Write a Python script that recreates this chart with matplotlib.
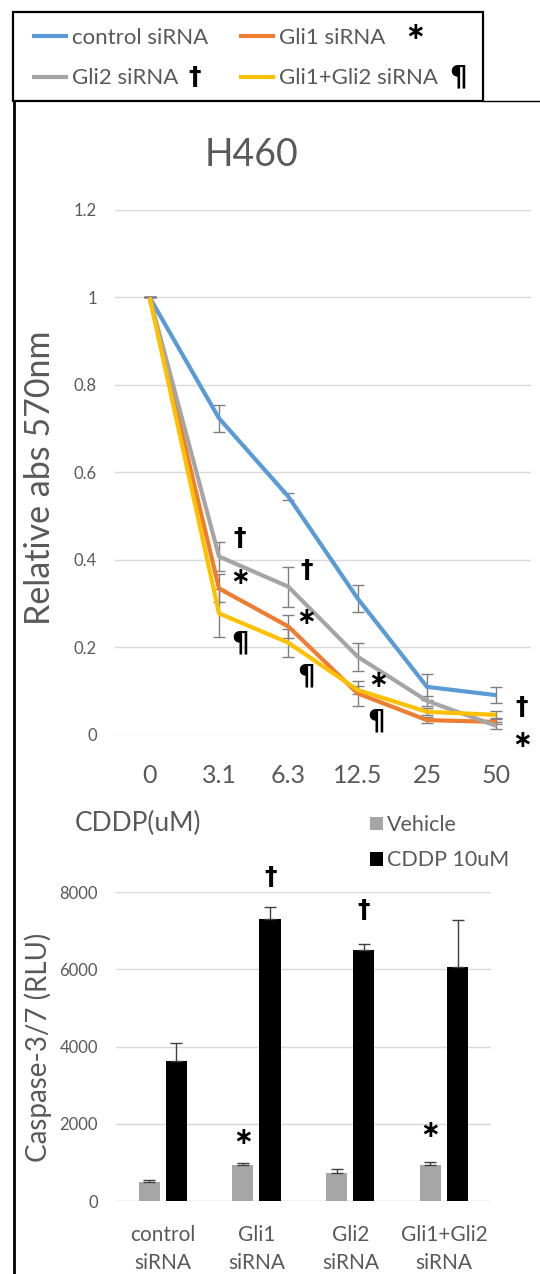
import numpy as np
import matplotlib
matplotlib.use("Agg")
from matplotlib import pyplot as plt
from matplotlib.lines import Line2D
from matplotlib.patches import Rectangle

plt.rcParams['font.family'] = ['Lato', 'DejaVu Sans']

# line chart data
doses = ['0', '3.1', '6.3', '12.5', '25', '50']
series_names = ['control siRNA', 'Gli1 siRNA', 'Gli2 siRNA', 'Gli1+Gli2 siRNA']
series_colors = ['#5B9BD5', '#ED7D31', '#A5A5A5', '#FFC000']
ctrl = [1.0, 0.724, 0.545, 0.312, 0.110, 0.091]
ctrl_err = [0.0, 0.031, 0.008, 0.031, 0.030, 0.018]
gli1 = [1.0, 0.335, 0.248, 0.095, 0.034, 0.030]
gli1_err = [0.0, 0.032, 0.027, 0.028, 0.006, 0.006]
gli2 = [1.0, 0.408, 0.339, 0.179, 0.078, 0.021]
gli2_err = [0.0, 0.034, 0.046, 0.032, 0.012, 0.008]
gli12 = [1.0, 0.278, 0.211, 0.103, 0.053, 0.046]
gli12_err = [0.0, 0.055, 0.032, 0.010, 0.008, 0.008]

# bar chart data
groups = ['control\nsiRNA', 'Gli1\nsiRNA', 'Gli2\nsiRNA', 'Gli1+Gli2\nsiRNA']
vehicle = [500, 935, 720, 935]
vehicle_err = [40, 40, 100, 70]
cddp = [3630, 7300, 6500, 6055]
cddp_err = [460, 325, 150, 1230]

txt = '#595959'
W, H = 540, 1274
fig = plt.figure(figsize=(5.4, 12.74), dpi=100)

def fx(px):
    return px / W

def fy(py):
    return 1 - py / H

# frame decorations
fig.patches.append(Rectangle((fx(13), fy(101)), fx(483) - fx(13), fy(12) - fy(101),
                             transform=fig.transFigure, fill=False, lw=1.6, ec='black'))
fig.add_artist(Line2D([fx(483), 1.0], [fy(101), fy(101)], transform=fig.transFigure, lw=1.0, color='black'))
fig.add_artist(Line2D([fx(13.5), fx(13.5)], [0, fy(101)], transform=fig.transFigure, lw=2.0, color='black'))

# ---- line chart
ax = fig.add_axes([fx(115), fy(735), fx(531) - fx(115), fy(210) - fy(735)])
x = np.arange(len(doses))
vals = [ctrl, gli1, gli2, gli12]
errs = [ctrl_err, gli1_err, gli2_err, gli12_err]
for v, e in zip(vals, errs):
    ax.errorbar(x, v, yerr=e, fmt='none', ecolor='#7f7f7f', elinewidth=1.0, capsize=4, capthick=1.0, zorder=2)
handles = []
for v, c, n in zip(vals, series_colors, series_names):
    ln, = ax.plot(x, v, color=c, lw=3.0, label=n, zorder=3, solid_capstyle='butt')
    handles.append(ln)
ax.set_xlim(-0.5, 5.5)
ax.set_ylim(0, 1.2)
ax.set_yticks([0, 0.2, 0.4, 0.6, 0.8, 1.0, 1.2])
ax.set_yticklabels(['0', '0.2', '0.4', '0.6', '0.8', '1', '1.2'])
ax.set_xticks(x)
ax.set_xticklabels(doses)
ax.tick_params(axis='y', length=0, pad=13, labelsize=12, labelcolor=txt)
ax.tick_params(axis='x', length=0, pad=21, labelsize=18, labelcolor=txt)
ax.grid(axis='y', color='#d9d9d9', lw=1.0)
ax.set_axisbelow(True)
for s in ax.spines.values():
    s.set_visible(False)

sym = dict(color='black', fontweight='bold', family='DejaVu Sans', ha='center', va='center', clip_on=False)
line_marks = [('\u2020', 1.30, 0.450, 18), ('\u2217', 1.30, 0.361, 17), ('\u00b6', 1.30, 0.210, 20),
              ('\u2020', 2.26, 0.377, 18), ('\u2217', 2.26, 0.270, 17), ('\u00b6', 2.26, 0.133, 20),
              ('\u2217', 3.29, 0.126, 17), ('\u00b6', 3.26, 0.030, 20),
              ('\u2020', 5.37, 0.064, 18), ('\u2217', 5.37, -0.011, 17)]
for s, xx, yy, fs in line_marks:
    ax.text(xx, yy, s, fontsize=fs, **sym)

fig.text(fx(252), fy(155), 'H460', fontsize=27, color=txt, ha='center', va='center')
fig.text(fx(40), fy(478), 'Relative abs 570nm', fontsize=24.5, color=txt, rotation=90, ha='center', va='center')
fig.text(fx(75), fy(823), 'CDDP(uM)', fontsize=19, color=txt, ha='left', va='center')

# legend filled column-wise, so order handles to read row by row
order = [0, 2, 1, 3]
leg = fig.legend(handles=[handles[i] for i in order], labels=[series_names[i] for i in order],
                 ncol=2, frameon=False, loc='upper left', borderpad=0, borderaxespad=0,
                 bbox_to_anchor=(fx(32), fy(28)), fontsize=16, handlelength=1.62, handletextpad=0.2,
                 columnspacing=1.35, labelspacing=0.92)
for t in leg.get_texts():
    t.set_color(txt)
fig.text(fx(415), fy(32), '\u2217', fontsize=17, **sym)
fig.text(fx(195), fy(77), '\u2020', fontsize=18, **sym)
fig.text(fx(458), fy(77), '\u00b6', fontsize=20, **sym)

# ---- bar chart
ax2 = fig.add_axes([fx(116), fy(1201), fx(491) - fx(116), fy(892.3) - fy(1201)])
gx = np.arange(len(groups))
bw = 0.225
b1 = ax2.bar(gx - 0.147, vehicle, bw, color='#A6A6A6', label='Vehicle', zorder=2,
             yerr=[np.zeros(4), vehicle_err], error_kw=dict(ecolor='#404040', elinewidth=1.0, capsize=4, capthick=1.0))
b2 = ax2.bar(gx + 0.143, cddp, bw, color='black', label='CDDP 10uM', zorder=2,
             yerr=[np.zeros(4), cddp_err], error_kw=dict(ecolor='#404040', elinewidth=1.0, capsize=4, capthick=1.0))
ax2.set_xlim(-0.5, 3.5)
ax2.set_ylim(0, 8000)
ax2.set_yticks([0, 2000, 4000, 6000, 8000])
ax2.set_xticks(gx)
ax2.set_xticklabels(groups, linespacing=1.52)
ax2.tick_params(axis='y', length=0, pad=13, labelsize=12, labelcolor=txt)
ax2.tick_params(axis='x', length=0, pad=17, labelsize=15, labelcolor=txt)
ax2.grid(axis='y', color='#d9d9d9', lw=1.0)
ax2.set_axisbelow(True)
for s in ax2.spines.values():
    s.set_visible(False)
ax2.axhline(0, color='#d9d9d9', lw=1.0, zorder=1)

bar_marks = [('\u2020', 1.145, 8394, 18), ('\u2020', 2.145, 7540, 18),
             ('\u2217', 0.855, 1658, 17), ('\u2217', 2.855, 1840, 17)]
for s, xx, yy, fs in bar_marks:
    ax2.text(xx, yy, s, fontsize=fs, **sym)

fig.text(fx(38), fy(1047), 'Caspase-3/7 (RLU)', fontsize=20, color=txt, rotation=90, ha='center', va='center')
leg2 = fig.legend(handles=[b1, b2], labels=['Vehicle', 'CDDP 10uM'], frameon=False, loc='upper left',
                  borderpad=0, borderaxespad=0, bbox_to_anchor=(fx(370), fy(815)), fontsize=15.5,
                  handlelength=0.6, handleheight=0.6, handletextpad=0.2, labelspacing=0.72)
for t in leg2.get_texts():
    t.set_color(txt)

fig.savefig('out.png', dpi=100)
